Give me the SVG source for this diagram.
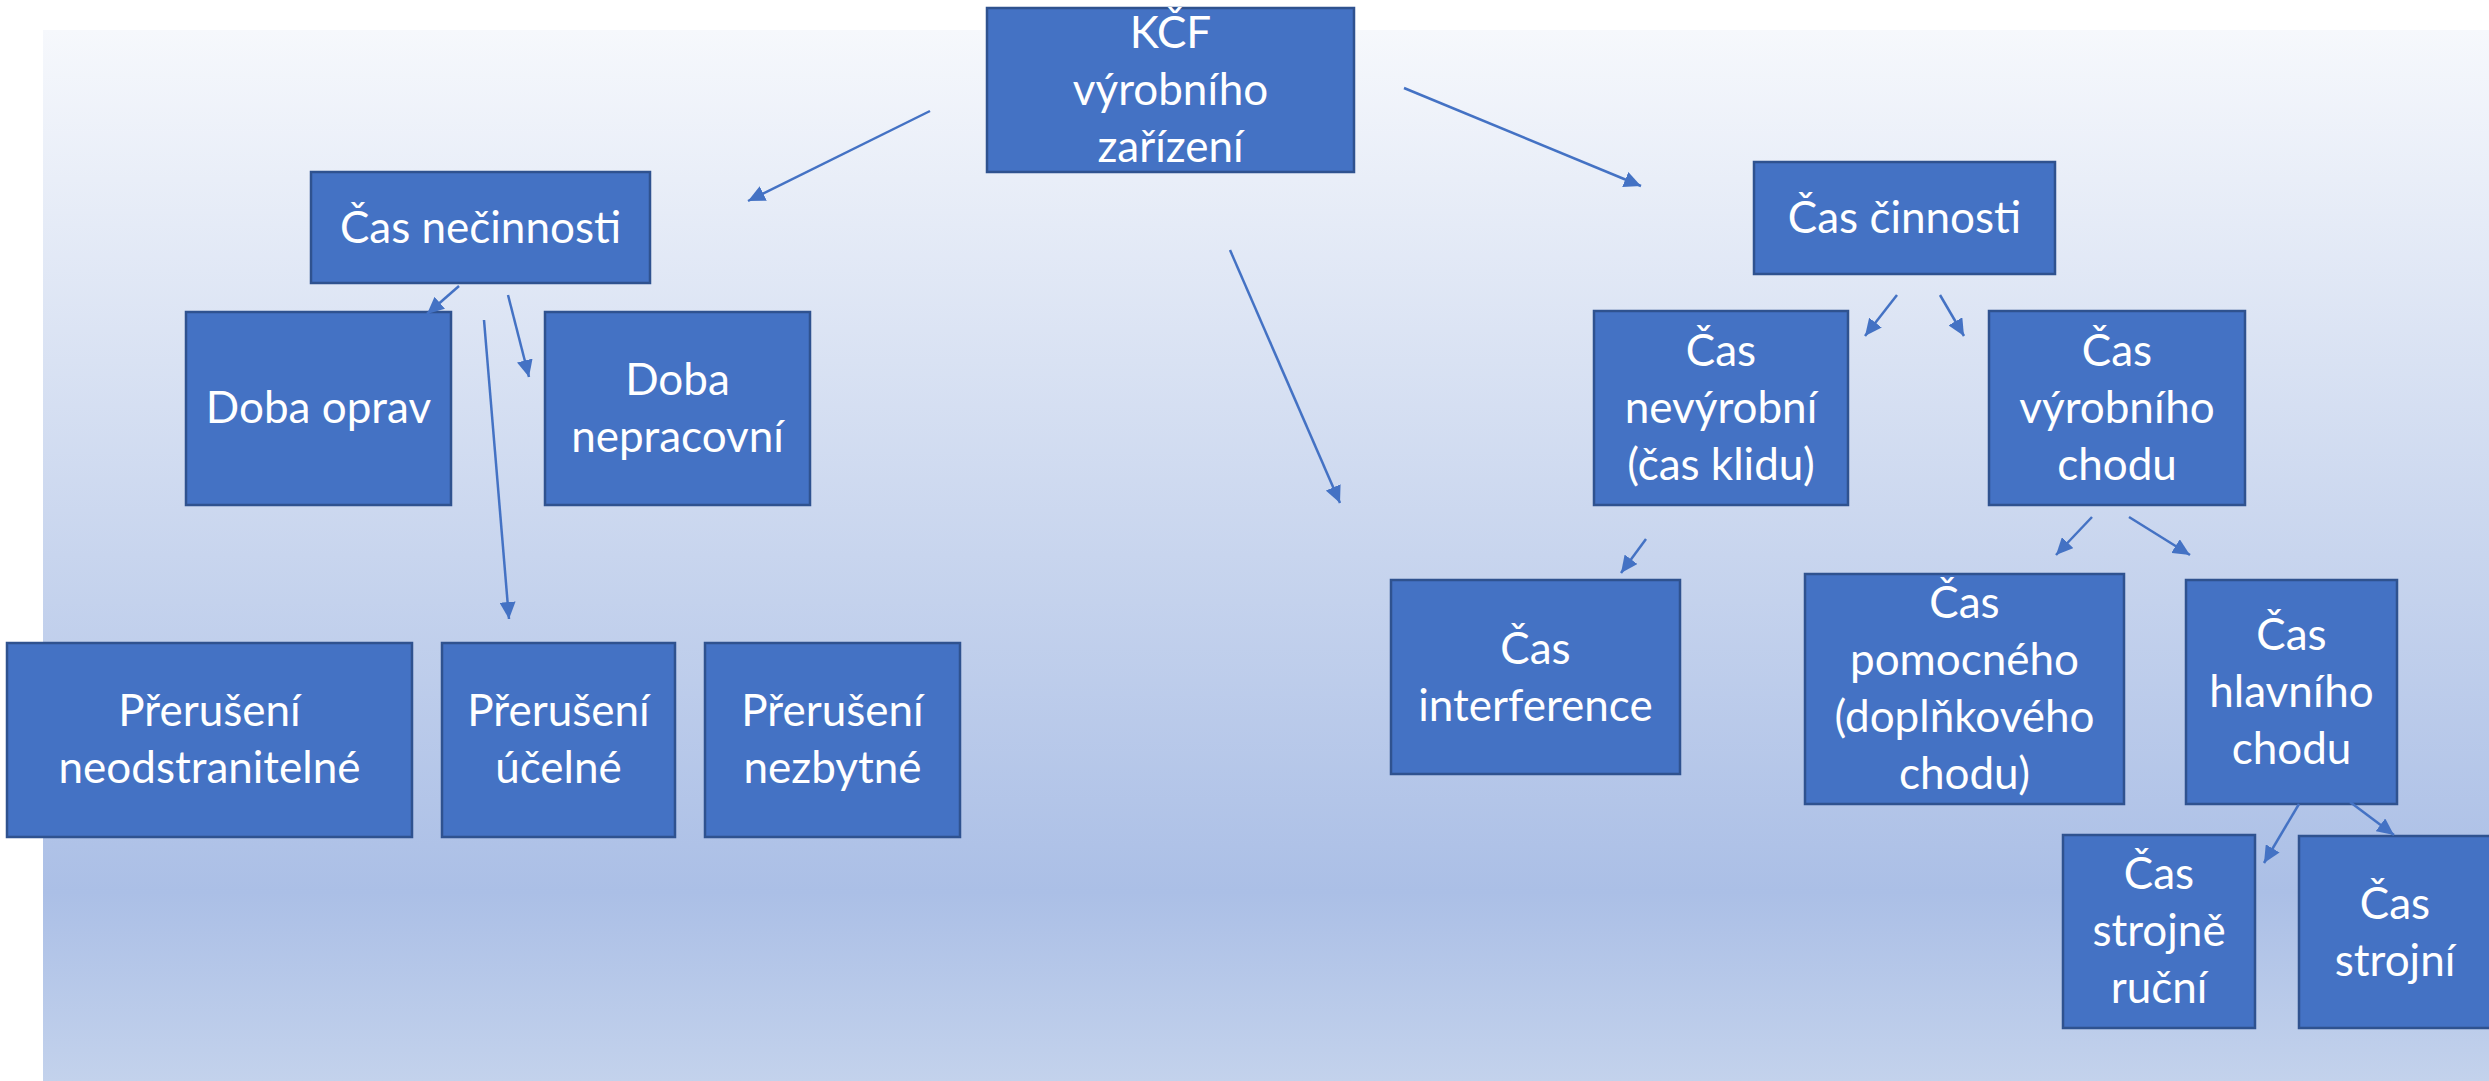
<svg xmlns="http://www.w3.org/2000/svg" width="2489" height="1081" viewBox="0 0 2489 1081">
  <defs>
    <linearGradient id="bg" gradientUnits="userSpaceOnUse" x1="0" y1="30" x2="0" y2="1081">
      <stop offset="0" stop-color="#f6f8fc"/>
      <stop offset="0.5" stop-color="#c8d5ee"/>
      <stop offset="0.82" stop-color="#abbfe6"/>
      <stop offset="1" stop-color="#c3d2ec"/>
    </linearGradient>
    <marker id="arrow" markerUnits="userSpaceOnUse" markerWidth="18" markerHeight="16" refX="17" refY="8" orient="auto">
      <path d="M0,0 L17,8 L0,16 z" fill="#4472c4"/>
    </marker>
    <style>
      .box { fill: #4472c4; stroke: #2f528f; stroke-width: 2.5; }
      .lbl { fill: #ffffff; font-family: Lato, "Open Sans", "Noto Sans", sans-serif; font-size: 44px; text-anchor: middle; }
      .edge { stroke: #4472c4; stroke-width: 2.5; fill: none; marker-end: url(#arrow); }
    </style>
  </defs>

  <rect x="0" y="0" width="2489" height="1081" fill="#ffffff"/>
  <rect x="43" y="30" width="2446" height="1051" fill="url(#bg)"/>

  <g id="nodes">
    <g id="kcf">
      <rect class="box" x="987" y="8" width="367" height="164"/>
      <text class="lbl"><tspan x="1170.5" y="48">KČF</tspan><tspan x="1170.5" y="105">výrobního</tspan><tspan x="1170.5" y="162">zařízení</tspan></text>
    </g>
    <g id="cas-necinnosti">
      <rect class="box" x="311" y="172" width="339" height="111"/>
      <text class="lbl"><tspan x="480.5" y="243">Čas nečinnosti</tspan></text>
    </g>
    <g id="doba-oprav">
      <rect class="box" x="186" y="312" width="265" height="193"/>
      <text class="lbl"><tspan x="318.5" y="423">Doba oprav</tspan></text>
    </g>
    <g id="doba-nepracovni">
      <rect class="box" x="545" y="312" width="265" height="193"/>
      <text class="lbl"><tspan x="677.5" y="395">Doba</tspan><tspan x="677.5" y="452">nepracovní</tspan></text>
    </g>
    <g id="preruseni-neodstranitelne">
      <rect class="box" x="7" y="643" width="405" height="194"/>
      <text class="lbl"><tspan x="209.5" y="726">Přerušení</tspan><tspan x="209.5" y="783">neodstranitelné</tspan></text>
    </g>
    <g id="preruseni-ucelne">
      <rect class="box" x="442" y="643" width="233" height="194"/>
      <text class="lbl"><tspan x="558.5" y="726">Přerušení</tspan><tspan x="558.5" y="783">účelné</tspan></text>
    </g>
    <g id="preruseni-nezbytne">
      <rect class="box" x="705" y="643" width="255" height="194"/>
      <text class="lbl"><tspan x="832.5" y="726">Přerušení</tspan><tspan x="832.5" y="783">nezbytné</tspan></text>
    </g>
    <g id="cas-cinnosti">
      <rect class="box" x="1754" y="162" width="301" height="112"/>
      <text class="lbl"><tspan x="1904.5" y="233">Čas činnosti</tspan></text>
    </g>
    <g id="cas-nevyrobni">
      <rect class="box" x="1594" y="311" width="254" height="194"/>
      <text class="lbl"><tspan x="1721" y="366">Čas</tspan><tspan x="1721" y="423">nevýrobní</tspan><tspan x="1721" y="480">(čas klidu)</tspan></text>
    </g>
    <g id="cas-vyrobniho-chodu">
      <rect class="box" x="1989" y="311" width="256" height="194"/>
      <text class="lbl"><tspan x="2117" y="366">Čas</tspan><tspan x="2117" y="423">výrobního</tspan><tspan x="2117" y="480">chodu</tspan></text>
    </g>
    <g id="cas-interference">
      <rect class="box" x="1391" y="580" width="289" height="194"/>
      <text class="lbl"><tspan x="1535.5" y="664">Čas</tspan><tspan x="1535.5" y="721">interference</tspan></text>
    </g>
    <g id="cas-pomocneho">
      <rect class="box" x="1805" y="574" width="319" height="230"/>
      <text class="lbl"><tspan x="1964.5" y="618">Čas</tspan><tspan x="1964.5" y="675">pomocného</tspan><tspan x="1964.5" y="732">(doplňkového</tspan><tspan x="1964.5" y="789">chodu)</tspan></text>
    </g>
    <g id="cas-hlavniho-chodu">
      <rect class="box" x="2186" y="580" width="211" height="224"/>
      <text class="lbl"><tspan x="2291.5" y="650">Čas</tspan><tspan x="2291.5" y="707">hlavního</tspan><tspan x="2291.5" y="764">chodu</tspan></text>
    </g>
    <g id="cas-strojne-rucni">
      <rect class="box" x="2063" y="835" width="192" height="193"/>
      <text class="lbl"><tspan x="2159" y="889">Čas</tspan><tspan x="2159" y="946">strojně</tspan><tspan x="2159" y="1003">ruční</tspan></text>
    </g>
    <g id="cas-strojni">
      <rect class="box" x="2299" y="836" width="192" height="192"/>
      <text class="lbl"><tspan x="2395" y="919">Čas</tspan><tspan x="2395" y="976">strojní</tspan></text>
    </g>
  </g>

  <g id="connectors">
    <line class="edge" x1="930" y1="111" x2="748" y2="201"/>
    <line class="edge" x1="1404" y1="88" x2="1641" y2="186"/>
    <line class="edge" x1="1230" y1="250" x2="1340" y2="503"/>
    <line class="edge" x1="459" y1="286" x2="427" y2="314"/>
    <line class="edge" x1="508" y1="295" x2="529" y2="377"/>
    <line class="edge" x1="484" y1="320" x2="509" y2="619"/>
    <line class="edge" x1="1897" y1="295" x2="1865" y2="336"/>
    <line class="edge" x1="1940" y1="295" x2="1964" y2="336"/>
    <line class="edge" x1="1646" y1="539" x2="1621" y2="573"/>
    <line class="edge" x1="2092" y1="517" x2="2056" y2="555"/>
    <line class="edge" x1="2129" y1="517" x2="2190" y2="555"/>
    <line class="edge" x1="2299" y1="804" x2="2264" y2="863"/>
    <line class="edge" x1="2350" y1="802" x2="2394" y2="835"/>
  </g>
</svg>
